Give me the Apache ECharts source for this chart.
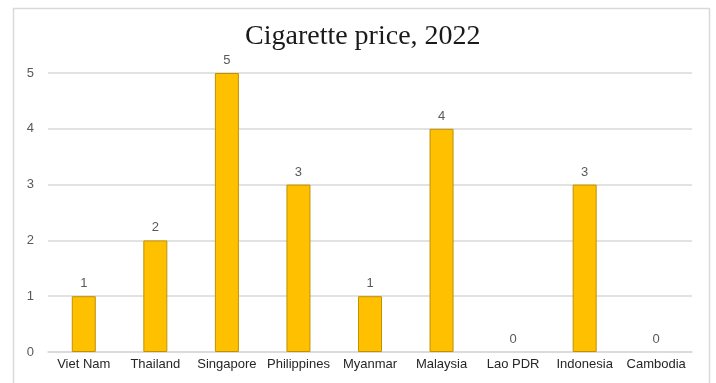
<!DOCTYPE html>
<html>
<head>
<meta charset="utf-8">
<script src="https://cdn.jsdelivr.net/npm/echarts@6/dist/echarts.min.js"></script>
<style>
html,body{margin:0;padding:0;background:#fff;}
#c{width:716px;height:383px;}
</style>
</head>
<body>
<div id="c"></div>
<script>
const categories = ['Viet Nam','Thailand','Singapore','Philippines','Myanmar','Malaysia','Lao PDR','Indonesia','Cambodia'];
const prices = [1,2,5,3,1,4,0,3,0];
const yTicks = [0,1,2,3,4,5];

const chart = echarts.init(document.getElementById('c'), null, {renderer:'canvas'});
chart.setOption({
  animation:false,
  backgroundColor:'#fff',
  title:{
    text:'Cigarette price, 2022',
    left:240,
    top:18,
    textStyle:{fontFamily:'Liberation Serif', fontSize:28, fontWeight:'normal', color:'#1a1a1a'}
  },
  graphic:[{
    type:'rect', left:11, top:6,
    shape:{width:696, height:390},
    style:{fill:'none', stroke:'#d9d9d9', lineWidth:1.5},
    silent:true
  }],
  grid:{left:48, right:24, top:73, bottom:31},
  xAxis:{
    type:'category',
    data:categories,
    axisTick:{show:false},
    axisLine:{lineStyle:{color:'#d9d9d9', width:1.5}},
    axisLabel:{interval:0, color:'#262626', fontFamily:'Liberation Sans', fontSize:13, margin:6}
  },
  yAxis:{
    type:'value',
    min:yTicks[0], max:yTicks[yTicks.length-1], interval:1,
    axisLine:{show:false},
    axisTick:{show:false},
    splitLine:{lineStyle:{color:'#d9d9d9', width:1.5}},
    axisLabel:{color:'#595959', fontFamily:'Liberation Sans', fontSize:13, margin:14}
  },
  series:[{
    type:'bar',
    data:prices.map(v => ({value:v, itemStyle: v === 0 ? {borderWidth:0, color:'transparent'} : {}})),
    barWidth:24,
    itemStyle:{color:'#FFC000', borderColor:'#C09100', borderWidth:1},
    label:{show:true, position:'top', color:'#595959', fontFamily:'Liberation Sans', fontSize:13, distance:6}
  }]
});
</script>
</body>
</html>
